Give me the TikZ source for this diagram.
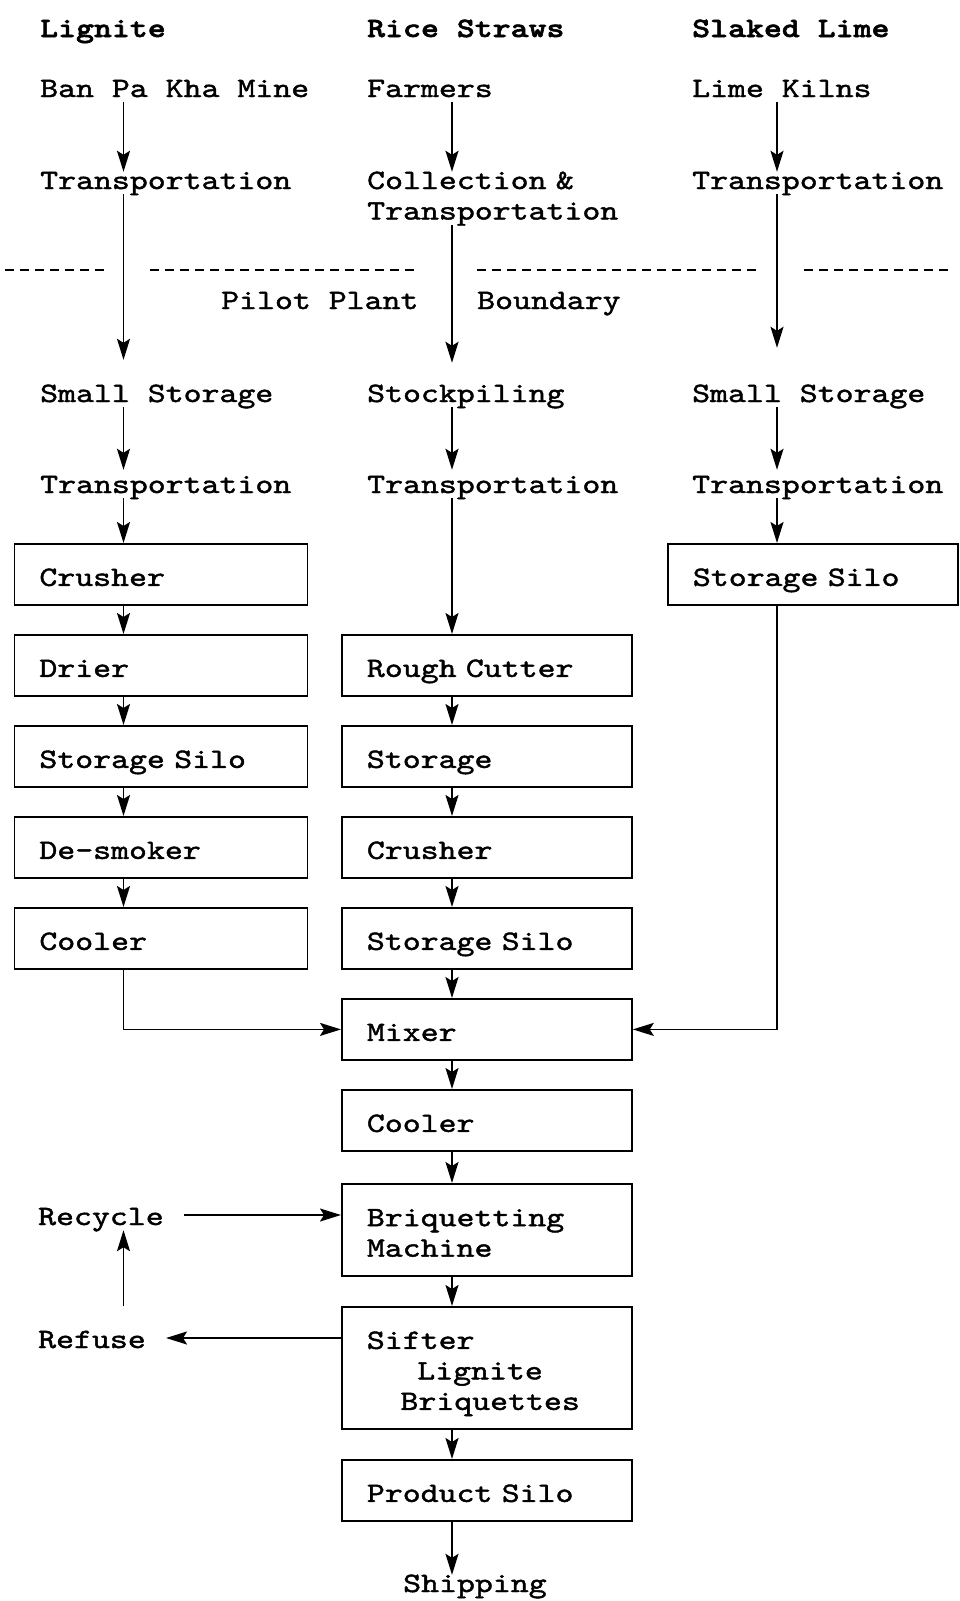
\documentclass[tikz,border=0pt]{standalone}
\usepackage{fontspec}
\usetikzlibrary{arrows.meta}
% typewriter faces for the flow sheet
\newfontfamily\bodyfont{lmmono10-regular.otf}[FakeStretch=1.22, FakeBold=1.5]
\newfontfamily\headfont{lmmonolt10-bold.otf}[FakeStretch=1.22, FakeBold=2]

\begin{document}
\begin{tikzpicture}[x=1pt,y=-1pt,
  every node/.style={font=\bodyfont\fontsize{28}{30.5}\selectfont},
  lbl/.style={anchor=base west, inner sep=0pt, text height=17pt, text depth=5pt},
  head/.style={lbl, font=\headfont\fontsize{28}{30.5}\selectfont},
  unit/.style={draw, line width=1.8pt, anchor=north west, inner xsep=25pt,
    inner ysep=0pt, align=left, text height=23pt, text depth=0pt,
    minimum height=61pt},
  wideunit/.style={unit, text width=243pt},
  narrowunit/.style={unit, text width=240pt},
  flow/.style={line width=1.8pt, -{Stealth[length=21pt,width=13pt,inset=4pt]}},
  boundary/.style={line width=1.8pt, dash pattern=on 9pt off 6pt}
]
\fill[white] (0,0) rectangle (959,1601);
\useasboundingbox (0,0) rectangle (959,1601);

% column axes for the vertical flows
\coordinate (cL) at (123.5,0);
\coordinate (cM) at (452,0);
\coordinate (cR) at (777,0);

% raw materials and their sources
\node[head] (hL) at (40,37) {Lignite};
\node[head] (hM) at (367,37) {Rice Straws};
\node[head] (hR) at (692,37) {Slaked Lime};

\node[lbl] (mine) at (40,97) {Ban Pa Kha Mine};
\node[lbl] (farmers) at (367,97) {Farmers};
\node[lbl] (kilns) at (692,97) {Lime Kilns};

\node[lbl] (trL) at (40,189) {Transportation};
\node[lbl, align=left, text width=260pt, text depth=35.5pt] (coll) at (367,189)
  {Collection \&\\Transportation};
\node[lbl] (trR) at (692,189) {Transportation};

% plant boundary
\draw[boundary] (5,270) -- (107,270);
\draw[boundary] (150,270) -- (419,270);
\draw[boundary] (477,270) -- (761,270);
\draw[boundary] (804,270) -- (948,270);
\node[lbl] (pilot) at (221,309) {Pilot Plant};
\node[lbl] (bound) at (477,309) {Boundary};

\node[lbl] (ssL) at (40,402) {Small Storage};
\node[lbl] (stock) at (367,402) {Stockpiling};
\node[lbl] (ssR) at (692,402) {Small Storage};

\node[lbl] (tr2L) at (40,493) {Transportation};
\node[lbl] (tr2M) at (367,493) {Transportation};
\node[lbl] (tr2R) at (692,493) {Transportation};

% lignite line
\node[wideunit] (crusherL) at (13.5,543) {Crusher};
\node[wideunit] (drier) at (13.5,634) {Drier};
\node[wideunit] (siloL) at (13.5,725) {Storage Silo};
\node[wideunit] (desmoker) at (13.5,816) {De-smoker};
\node[wideunit] (coolerL) at (13.5,907) {Cooler};

% rice straw line and common units
\node[narrowunit] (cutter) at (341,634) {Rough Cutter};
\node[narrowunit] (storM) at (341,725) {Storage};
\node[narrowunit] (crusherM) at (341,816) {Crusher};
\node[narrowunit] (siloM) at (341,907) {Storage Silo};
\node[narrowunit] (mixer) at (341,998) {Mixer};
\node[narrowunit] (coolerM) at (341,1089) {Cooler};
\node[narrowunit, minimum height=92pt, text depth=30.5pt] (briq) at (341,1183)
  {Briquetting\\Machine};
\node[narrowunit, minimum height=122pt, text depth=61pt] (sifter) at (341,1306)
  {Sifter\\\hspace*{1.8em}Lignite\\\hspace*{1.2em}Briquettes};
\node[narrowunit] (product) at (341,1459) {Product Silo};

% slaked lime line
\node[narrowunit] (siloR) at (667,543) {Storage Silo};

% side streams and product
\node[lbl] (recycle) at (38,1225) {Recycle};
\node[lbl] (refuse) at (38,1348) {Refuse};
\node[lbl] (shipping) at (403,1592) {Shipping};

% supply flows
\draw[flow] (mine.south -| cL) -- (trL.north -| cL);
\draw[flow] (farmers.south -| cM) -- (coll.north -| cM);
\draw[flow] (kilns.south -| cR) -- (trR.north -| cR);
\draw[flow, shorten >=25pt] (trL.south -| cL) -- (ssL.north -| cL);
\draw[flow, shorten >=22pt] (coll.south -| cM) -- (stock.north -| cM);
\draw[flow, shorten >=37pt] (trR.south -| cR) -- (ssR.north -| cR);
\draw[flow, shorten >=6pt] (ssL.south -| cL) -- (tr2L.north -| cL);
\draw[flow, shorten >=6pt] (stock.south -| cM) -- (tr2M.north -| cM);
\draw[flow, shorten >=6pt] (ssR.south -| cR) -- (tr2R.north -| cR);
\draw[flow] (tr2L.south -| cL) -- (crusherL.north -| cL);
\draw[flow] (tr2M.south -| cM) -- (cutter.north -| cM);
\draw[flow] (tr2R.south -| cR) -- (siloR.north -| cR);

% lignite chain
\draw[flow] (crusherL.south -| cL) -- (drier.north -| cL);
\draw[flow] (drier.south -| cL) -- (siloL.north -| cL);
\draw[flow] (siloL.south -| cL) -- (desmoker.north -| cL);
\draw[flow] (desmoker.south -| cL) -- (coolerL.north -| cL);

% rice straw chain
\draw[flow] (cutter.south -| cM) -- (storM.north -| cM);
\draw[flow] (storM.south -| cM) -- (crusherM.north -| cM);
\draw[flow] (crusherM.south -| cM) -- (siloM.north -| cM);
\draw[flow] (siloM.south -| cM) -- (mixer.north -| cM);

% feeds into the mixer
\draw[flow] (coolerL.south -| cL) |- (mixer.west);
\draw[flow] (siloR.south -| cR) |- (mixer.east);

% briquetting chain
\draw[flow] (mixer.south -| cM) -- (coolerM.north -| cM);
\draw[flow] (coolerM.south -| cM) -- (briq.north -| cM);
\draw[flow] (briq.south -| cM) -- (sifter.north -| cM);
\draw[flow] (sifter.south -| cM) -- (product.north -| cM);
\draw[flow] (product.south -| cM) -- (shipping.north -| cM);

% refuse loop
\draw[flow, shorten >=20pt] ([yshift=4pt]refuse.east -| sifter.west) -- ([yshift=4pt]refuse.east);
\draw[flow, shorten <=25pt] (refuse.north -| cL) -- (recycle.south -| cL);
\draw[flow, shorten <=20pt] ([yshift=4pt]recycle.east) -- ([yshift=4pt]recycle.east -| briq.west);
\end{tikzpicture}
\end{document}
